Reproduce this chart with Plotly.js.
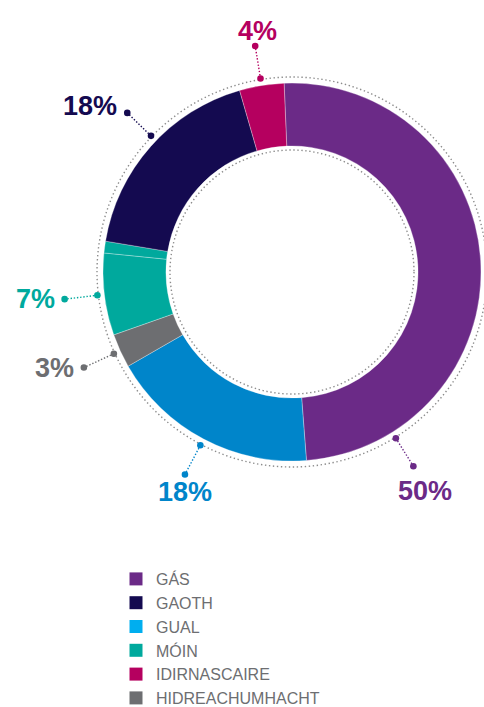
<!DOCTYPE html>
<html>
<head>
<meta charset="utf-8">
<script src="https://cdn.plot.ly/plotly-3.0.1.min.js"></script>
<style>
  html, body { margin: 0; padding: 0; background: #fff; }
  #chart { width: 484px; height: 707px; }
</style>
</head>
<body>
<div id="chart"></div>
<script>
// slices, clockwise from 12 o'clock
const sliceNames = ['GÁS', 'GUAL', 'HIDREACHUMHACHT', 'MÓIN', 'EILE', 'GAOTH', 'IDIRNASCAIRE'];
const sliceValues = [49.4, 17.9, 2.9, 7.0, 1.0, 17.9, 3.8];
const sliceLabels = ['50%', '18%', '3%', '7%', '', '18%', '4%'];
const sliceColors = ['#6b2a87', '#0085ca', '#6d6e71', '#00a99d', '#00a99d', '#140a50', '#b5005f'];

// legend, in its own order
const legendNames = ['GÁS', 'GAOTH', 'GUAL', 'MÓIN', 'IDIRNASCAIRE', 'HIDREACHUMHACHT'];
const legendColors = ['#6b2a87', '#140a50', '#00aeef', '#00a99d', '#b5005f', '#6d6e71'];

const W = 484, H = 707;
const cx = 292, cy = 272, R = 189;      // donut centre and outer radius, px
const rotation = -2.4;
const rDot1 = 196, rDot2 = 229;         // leader dots
const leaderAngleOverride = {'GÁS': 148, 'GAOTH': 314};

const px = x => x / W;
const py = y => 1 - y / H;
const polar = (r, deg) => {
  const a = deg * Math.PI / 180;
  return [cx + r * Math.sin(a), cy - r * Math.cos(a)];
};

const shapes = [];
const annotations = [];

// dotted rings
[195, 122].forEach(r => {
  shapes.push({
    type: 'circle', xref: 'paper', yref: 'paper',
    xsizemode: 'pixel', ysizemode: 'pixel',
    xanchor: px(cx), yanchor: py(cy),
    x0: -r, x1: r, y0: -r, y1: r,
    line: {color: '#8c8c8c', width: 1.4, dash: '1.4px,2.6px'},
    layer: 'below'
  });
});

const dot = (x, y, col) => ({
  type: 'circle', xref: 'paper', yref: 'paper',
  xsizemode: 'pixel', ysizemode: 'pixel',
  xanchor: px(x), yanchor: py(y),
  x0: -3.3, x1: 3.3, y0: -3.3, y1: 3.3,
  fillcolor: col, line: {width: 0}
});

const total = sliceValues.reduce((a, b) => a + b, 0);
let cum = 0;
sliceValues.forEach((v, i) => {
  const a0 = rotation + cum / total * 360;
  cum += v;
  const a1 = rotation + cum / total * 360;
  if (!sliceLabels[i]) return;
  const ang = leaderAngleOverride[sliceNames[i]] !== undefined ? leaderAngleOverride[sliceNames[i]] : (a0 + a1) / 2;
  const col = sliceColors[i];
  const [x1, y1] = polar(rDot1, ang);
  const [x2, y2] = polar(rDot2, ang);
  shapes.push({
    type: 'line', xref: 'paper', yref: 'paper',
    x0: px(x1), y0: py(y1), x1: px(x2), y1: py(y2),
    line: {color: col, width: 1.4, dash: '1.4px,1.8px'}
  });
  shapes.push(dot(x1, y1, col));
  shapes.push(dot(x2, y2, col));

  const c = Math.cos(ang * Math.PI / 180), s = Math.sin(ang * Math.PI / 180);
  let ax, ay, xa;
  if (c > 0.8) { ax = x2 + 2; ay = y2 - 15; xa = 'center'; }
  else if (c < -0.8) { ax = x2 + Math.max(0, s) * 22; ay = y2 + 18 + Math.max(0, s) * 12; xa = 'center'; }
  else if (s < 0) { ax = x2 - 8; ay = y2 - Math.max(0, c) * 10; xa = 'right'; }
  else { ax = x2 + 8; ay = y2 - Math.max(0, c) * 10; xa = 'left'; }
  annotations.push({
    xref: 'paper', yref: 'paper', x: px(ax), y: py(ay),
    xanchor: xa, yanchor: 'middle', showarrow: false,
    text: '<b>' + sliceLabels[i] + '</b>',
    font: {family: 'Liberation Sans, Arial, sans-serif', size: 27, color: col}
  });
});

const pie = {
  type: 'pie',
  labels: sliceNames,
  values: sliceValues,
  sort: false,
  direction: 'clockwise',
  rotation: rotation,
  hole: 0.667,
  textinfo: 'none',
  hoverinfo: 'label+percent',
  showlegend: false,
  marker: {colors: sliceColors, line: {color: 'rgba(255,255,255,0.5)', width: 0.6}},
  domain: {x: [px(cx - R), px(cx + R)], y: [py(cy + R), py(cy - R)]}
};

const legendTraces = legendNames.map((name, i) => ({
  type: 'scatter', mode: 'markers',
  x: [null], y: [null],
  name: name,
  marker: {symbol: 'square', size: 13, color: legendColors[i], line: {width: 0}},
  hoverinfo: 'skip'
}));

const layout = {
  width: W, height: H,
  margin: {l: 0, r: 0, t: 0, b: 0, autoexpand: false},
  paper_bgcolor: '#fff', plot_bgcolor: '#fff',
  xaxis: {visible: false, domain: [0, 0.01]},
  yaxis: {visible: false, domain: [0, 0.01]},
  showlegend: true,
  legend: {
    x: px(116), y: py(562), xanchor: 'left', yanchor: 'top',
    font: {family: 'Liberation Sans, Arial, sans-serif', size: 16, color: '#6d6e71'},
    bgcolor: 'rgba(0,0,0,0)', traceorder: 'normal'
  },
  shapes: shapes,
  annotations: annotations
};

Plotly.newPlot('chart', [pie].concat(legendTraces), layout, {displayModeBar: false, staticPlot: true});
</script>
</body>
</html>
